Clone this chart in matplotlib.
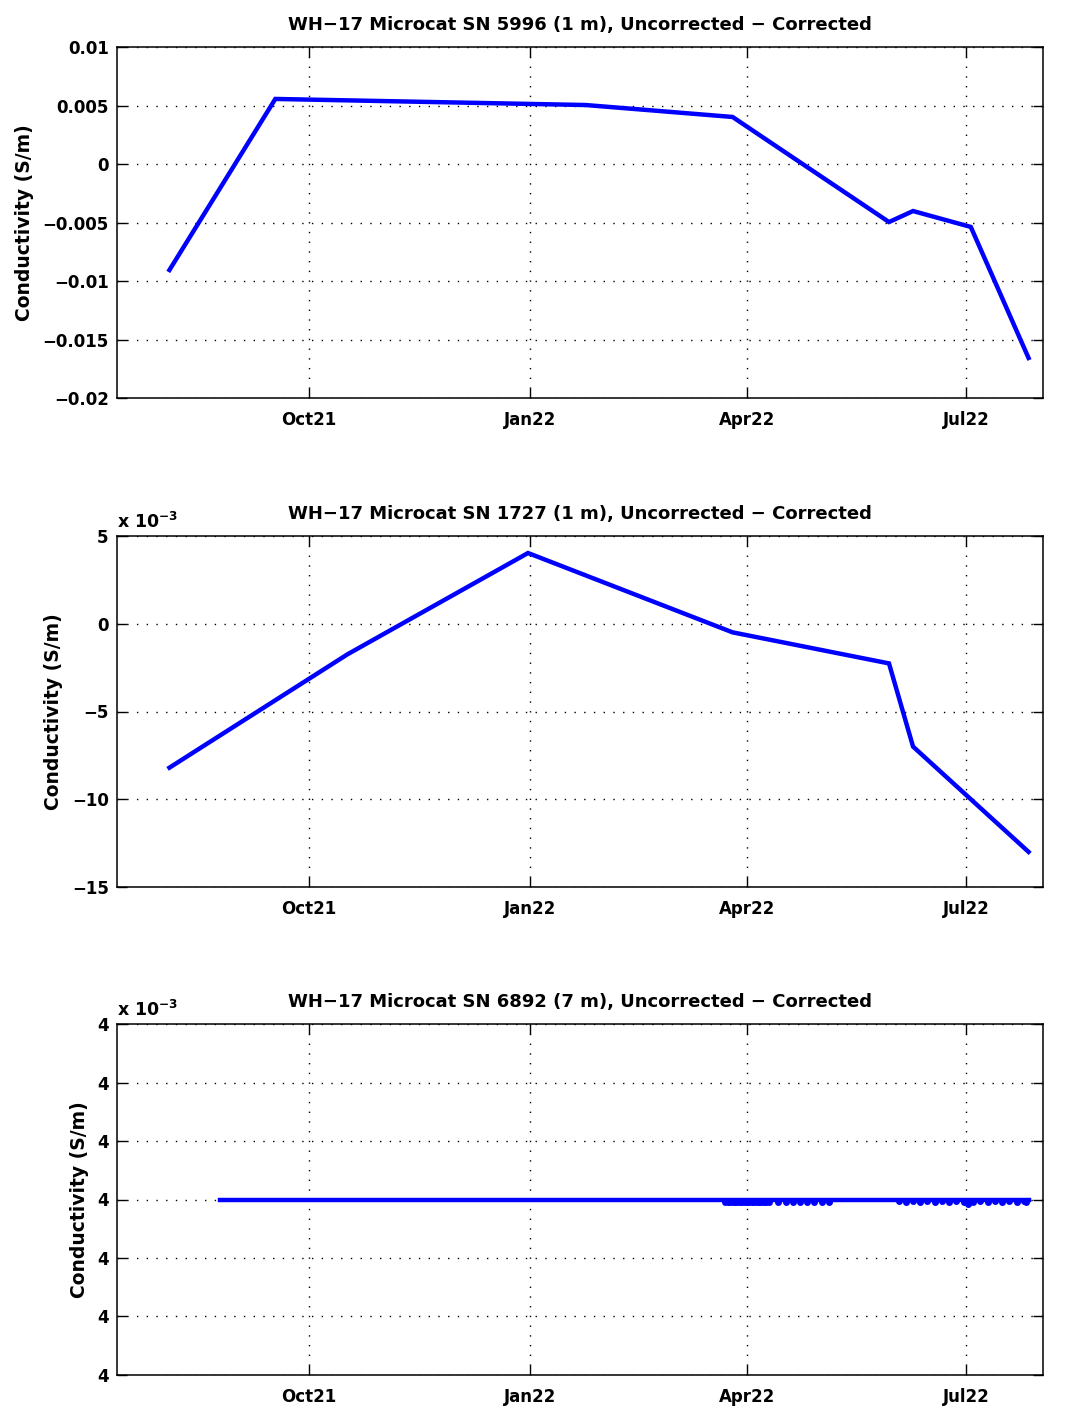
import numpy as np
import pandas as pd
import matplotlib
matplotlib.use("Agg")
import matplotlib.pyplot as plt
import matplotlib.dates as mdates
from matplotlib.ticker import FuncFormatter, MultipleLocator

plt.rcParams['font.family'] = ['DejaVu Sans']
plt.rcParams['font.weight'] = 'bold'
plt.rcParams['mathtext.fontset'] = 'dejavusans'
plt.rcParams['axes.unicode_minus'] = True

# ---- data ----
# SN 5996, conductivity difference in S/m
d1_dates = ['2021-08-04', '2021-09-17', '2022-01-24', '2022-03-26',
            '2022-05-30', '2022-06-09', '2022-07-03', '2022-07-27']
d1_vals = [-0.00906, 0.00556, 0.00504, 0.00402,
           -0.00496, -0.00402, -0.00538, -0.01658]

# SN 1727, S/m
d2_dates = ['2021-08-04', '2021-10-17', '2021-12-31', '2022-03-26',
            '2022-05-30', '2022-06-09', '2022-07-27']
d2_vals = [-0.0082, -0.00174, 0.00403, -0.00049,
           -0.00226, -0.0070, -0.0130]

# SN 6892: constant 0.004 S/m with tiny wiggles (deviation in 1e-10 S/m)
d3_base = 0.004
d3_seg_dates = ['2021-08-25', '2022-03-20']
d3_seg_dev = [0.0, 0.0]
# daily values 21 Mar - 11 Apr 2022
d3_dense_dev = [0, 0, -0.4, -0.5, -0.5, -0.4, -0.5, -0.5, -0.5, -0.4, -0.5,
                -0.5, -0.4, -0.5, -0.5, -0.5, -0.4, -0.5, -0.5, -0.4, -0.5, 0]
# daily values 12 Apr - 8 May 2022
d3_mid_dev = [0, 0, -0.4, 0, 0, -0.4, 0, 0, -0.4, 0, 0, -0.4, 0, 0,
              -0.4, 0, 0, -0.4, 0, 0, -0.4, 0, 0, -0.4, 0, 0, 0]
# daily values 2 Jun - 27 Jul 2022
d3_end_dev = [0, -0.3, 0, 0, -0.4, 0, 0, -0.3, 0, 0, -0.4, 0, 0, -0.3,
              0, 0, -0.4, 0, 0, -0.3, 0, 0, -0.4, 0, 0, -0.3, 0, 0, -0.4,
              0, -0.7, 0, -0.4, 0, 0, -0.3, 0, 0, -0.4, 0, 0, -0.3, 0, 0,
              -0.4, 0, 0, -0.3, 0, 0, -0.4, 0, 0, -0.3, -0.4, 0]

titles = ['WH\u221217 Microcat SN 5996 (1 m), Uncorrected \u2212 Corrected',
          'WH\u221217 Microcat SN 1727 (1 m), Uncorrected \u2212 Corrected',
          'WH\u221217 Microcat SN 6892 (7 m), Uncorrected \u2212 Corrected']
ylab = 'Conductivity (S/m)'

# ---- build panel 3 series ----
x3 = list(pd.to_datetime(d3_seg_dates))
y3 = list(d3_seg_dev)
x3 += list(pd.date_range('2022-03-21', periods=len(d3_dense_dev), freq='D'))
y3 += d3_dense_dev
x3 += list(pd.date_range('2022-04-12', periods=len(d3_mid_dev), freq='D'))
y3 += d3_mid_dev
x3 += [pd.Timestamp('2022-06-01')]
y3 += [0.0]
x3 += list(pd.date_range('2022-06-02', periods=len(d3_end_dev), freq='D'))
y3 += d3_end_dev
x3 = np.array(x3)
y3 = np.array(y3)
low3 = y3 < 0
y3v = d3_base + y3 * 1e-10

fig = plt.figure(figsize=(10.71, 14.10), dpi=100)
W = 1071.0
H = 1410.0
left = 117 / W
width = (1043 - 117) / W
tops = [47, 536, 1024]
ph = 351

xlo = pd.Timestamp('2021-07-13 05:00')
xhi = pd.Timestamp('2022-08-02')

fs = 12
blue = '#0000ff'

series = [(pd.to_datetime(d1_dates), d1_vals),
          (pd.to_datetime(d2_dates), d2_vals)]

axes = []
for i in range(3):
    ax = fig.add_axes([left, 1 - (tops[i] + ph) / H, width, ph / H])
    if i < 2:
        xs, ys = series[i]
        ax.plot(xs, ys, color=blue, lw=3.2, solid_joinstyle='miter')
    else:
        # flat record, low samples shown as blobs under the line
        ax.plot(x3[~low3], y3v[~low3], color=blue, lw=3.2)
        ax.plot(x3[low3], y3v[low3], 'o', color=blue, ms=5, mew=0)
    ax.set_xlim(xlo, xhi)
    ax.xaxis.set_major_locator(mdates.MonthLocator(bymonth=[1, 4, 7, 10]))
    ax.xaxis.set_major_formatter(mdates.DateFormatter('%b%y'))
    ax.grid(True, color='black', linestyle=(0, (1, 6)), linewidth=1.0)
    ax.tick_params(direction='in', length=7, width=1, top=True, right=True,
                   labelsize=fs)
    ax.tick_params(axis='x', pad=9)
    ax.tick_params(axis='y', pad=6)
    for s in ax.spines.values():
        s.set_linewidth(1.1)
    ax.set_title(titles[i], fontsize=13, fontweight='bold', pad=12)
    ax.set_ylabel(ylab, fontsize=13.5, fontweight='bold', labelpad=6)
    axes.append(ax)

# panel 1
ax = axes[0]
ax.set_ylim(-0.02, 0.01)
ax.yaxis.set_major_locator(MultipleLocator(0.005))
ax.yaxis.set_major_formatter(FuncFormatter(
    lambda v, p: ('%g' % round(v, 4)).replace('-', '\u2212')))

# panel 2
ax = axes[1]
ax.set_ylim(-0.015, 0.005)
ax.yaxis.set_major_locator(MultipleLocator(0.005))
ax.yaxis.set_major_formatter(FuncFormatter(
    lambda v, p: ('%g' % round(v * 1e3, 3)).replace('-', '\u2212')))

# panel 3
ax = axes[2]
step3 = 1e-9
ax.set_ylim(d3_base - 3 * step3, d3_base + 3 * step3)
ax.set_yticks(d3_base + np.arange(-3, 4) * step3)
ax.yaxis.set_major_formatter(FuncFormatter(lambda v, p: '%.0f' % (v * 1e3)))

for ax in axes[1:]:
    ax.text(0.0, 1.01, r'$\mathbf{x\ 10^{-3}}$', transform=ax.transAxes,
            fontsize=12.5, ha='left', va='bottom')

fig.savefig('out.png', dpi=100)
